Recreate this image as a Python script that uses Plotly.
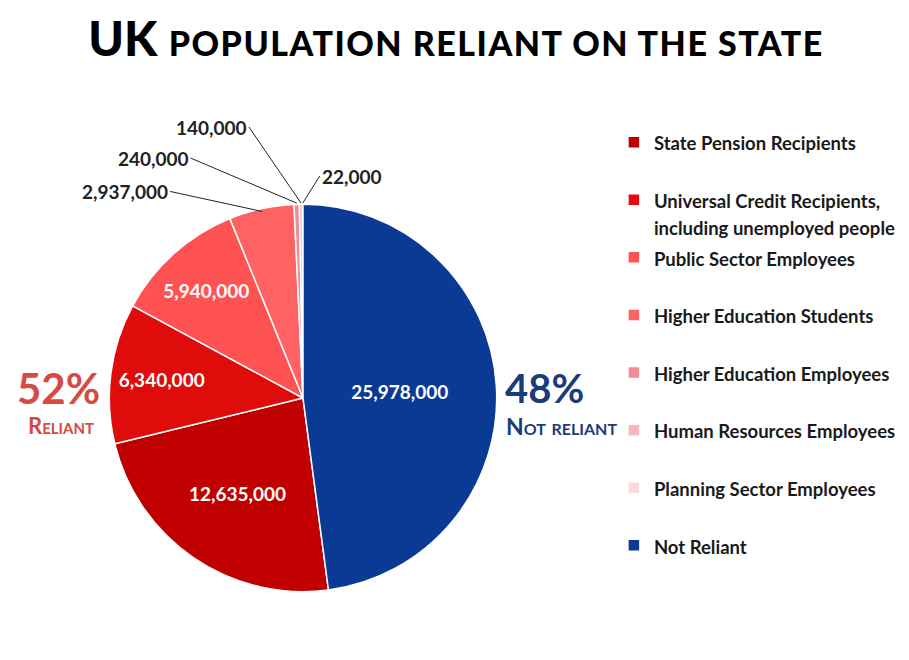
import numpy as np
import plotly.graph_objects as go

# ==== Data ====
groups = [
    "State Pension Recipients",
    "Universal Credit Recipients,<br>including unemployed people",
    "Public Sector Employees",
    "Higher Education Students",
    "Higher Education Employees",
    "Human Resources Employees",
    "Planning Sector Employees",
    "Not Reliant",
]
people = [12635000, 6340000, 5940000, 2937000, 240000, 140000, 22000, 25978000]
colours = ["#c00000", "#e00b0b", "#ff5252", "#ff6262",
           "#ee8c96", "#f6b6be", "#fadadf", "#0b3a94"]
small_groups = ["Higher Education Students", "Higher Education Employees",
                "Human Resources Employees", "Planning Sector Employees"]

total = sum(people)
not_reliant = people[-1]
reliant = total - not_reliant

# ==== Canvas (page body has an 8px margin) ====
W, H = 893, 644
cx, cy, r = 297, 390, 195   # pie centre / radius in figure pixels


def px(x):
    return x / W


def py(y):
    return 1 - y / H


# big slices get an inside label, small ones get a leader line
inside_text = ["" if g in small_groups else f"{v:,}" for g, v in zip(groups, people)]

# legend labels: keep each item two lines tall so the entries spread out
legend_names = []
for g in groups:
    lbl = g if "<br>" in g else g + "<br>\u00a0"
    legend_names.append(f"<span style='font-size:18.5px'>{lbl}</span>")

fig = go.Figure()
fig.add_trace(go.Pie(
    labels=legend_names,
    values=people,
    text=inside_text,
    textinfo="text",
    textposition="inside",
    insidetextorientation="horizontal",
    insidetextfont=dict(color="white", size=19, family="Lato", weight="bold"),
    marker=dict(colors=colours, line=dict(color="white", width=1.5)),
    sort=False,
    direction="clockwise",
    rotation=360 * not_reliant / total,
    domain=dict(x=[px(cx - r), px(cx + r)], y=[py(cy + r), py(cy - r)]),
    hoverinfo="skip",
))

# ==== Leader lines for the thin slices ====
fracs = np.array(people) / total
start = 360 * not_reliant / total
ends = start + 360 * np.cumsum(fracs)
mids = ends - 180 * fracs
offsets = {
    "Higher Education Students": (-92, -20),
    "Higher Education Employees": (-106, -45),
    "Human Resources Employees": (-52, -76),
    "Planning Sector Employees": (17, -27),
}
for g, v, a in zip(groups, people, mids):
    if g not in small_groups:
        continue
    rr = r - 4 if g == "Higher Education Students" else r
    tx = cx + rr * np.sin(np.radians(a))
    ty = cy - rr * np.cos(np.radians(a))
    ax, ay = offsets[g]
    fig.add_annotation(
        x=px(tx), y=py(ty), xref="paper", yref="paper",
        text=f"{v:,}", showarrow=True, arrowhead=0, arrowwidth=1,
        arrowcolor="#222", ax=ax, ay=ay,
        xanchor="right" if ax < 0 else "left",
        font=dict(family="Lato", size=19, color="#222", weight="bold"),
    )

# ==== Share callouts ====
red_txt, blue_txt = "#d64a43", "#1c3b7c"
fig.add_annotation(x=px(51), y=py(380), xref="paper", yref="paper", showarrow=False,
                   xanchor="center", yanchor="middle",
                   text=f"{round(100 * reliant / total)}%",
                   font=dict(family="Lato", size=42, weight="bold", color=red_txt))
fig.add_annotation(x=px(53), y=py(418), xref="paper", yref="paper", showarrow=False,
                   xanchor="center", yanchor="middle", text="Reliant",
                   font=dict(family="Lato", size=22, weight="bold", color=red_txt,
                             variant="small-caps"))
fig.add_annotation(x=px(540), y=py(380), xref="paper", yref="paper", showarrow=False,
                   xanchor="center", yanchor="middle",
                   text=f"{round(100 * not_reliant / total)}%",
                   font=dict(family="Lato", size=40, weight="bold", color=blue_txt))
fig.add_annotation(x=px(557), y=py(418), xref="paper", yref="paper", showarrow=False,
                   xanchor="center", yanchor="middle", text="Not reliant",
                   font=dict(family="Lato", size=23, weight="bold", color=blue_txt,
                             variant="small-caps"))

fig.update_layout(
    width=W, height=H,
    margin=dict(l=0, r=0, t=0, b=0),
    paper_bgcolor="white",
    title=dict(
        text="UK <span style='font-size:34px;letter-spacing:1.5px'>"
             "POPULATION RELIANT ON THE STATE</span>",
        x=px(448), xanchor="center", y=py(31), yanchor="middle",
        font=dict(family="Lato", size=48, weight=900, color="black"),
    ),
    showlegend=True,
    legend=dict(
        x=px(610), xanchor="left", y=py(114), yanchor="top",
        font=dict(family="Lato", size=21, color="#1a1a1a", weight="bold"),
        valign="top",
        traceorder="normal",
    ),
)

fig.write_html("out.html")
